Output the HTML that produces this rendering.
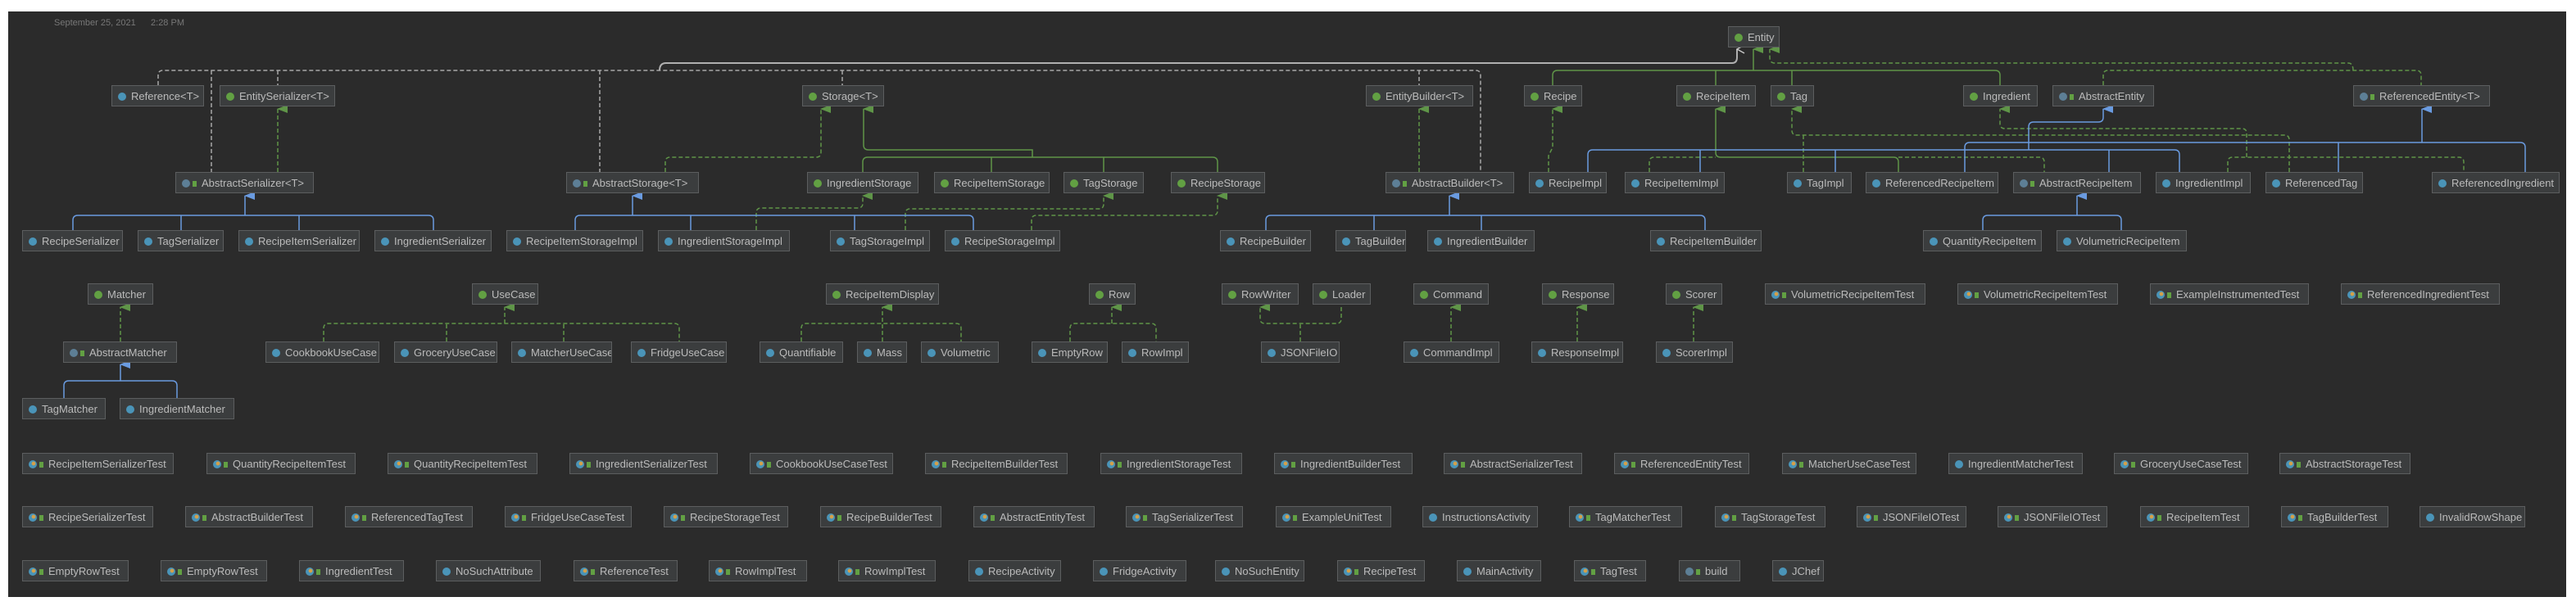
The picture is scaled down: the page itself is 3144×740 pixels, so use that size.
<!DOCTYPE html>
<html><head><meta charset="utf-8">
<style>
html,body{margin:0;padding:0;background:#fff;}
#c{position:relative;width:3144px;height:740px;background:#fff;overflow:hidden;font-family:"Liberation Sans",sans-serif;}
#bg{position:absolute;left:10px;top:14px;width:3122px;height:715px;background:#2b2b2b;}
.b{position:absolute;height:26px;background:#3b3d3e;border:1px solid #5c5e5f;box-sizing:border-box;color:#bbbbbb;font-size:13px;line-height:25px;white-space:nowrap;overflow:hidden;padding-left:7px;}
.b i{display:inline-block;width:10px;height:10px;border-radius:50%;vertical-align:-1px;margin-right:6px;background:#62a043;}
.b i.c{background:#4a94b8;}
.b i.a{background:#5d7f96;}
.b i.t{background:radial-gradient(circle at 60% 40%,#d4a04a 0 25%,#4a94b8 30%);}
.b u{display:inline-block;width:5px;height:7px;background:#62a043;margin-right:6px;margin-left:-3px;text-decoration:none;vertical-align:0;}
svg{position:absolute;left:0;top:0;}
#date{position:absolute;left:66px;top:22px;color:#777;font-size:11px;}
</style></head><body><div id="c">
<div id="bg"></div>
<div id="date">September 25, 2021&nbsp;&nbsp;&nbsp;&nbsp;&nbsp;&nbsp;2:28 PM</div>
<svg width="3144" height="740" viewBox="0 0 3144 740">
<defs>
<marker id="g" markerUnits="userSpaceOnUse" markerWidth="10" markerHeight="14" refX="5" refY="1" orient="auto-start-reverse" viewBox="0 0 10 14"><path d="M5 0 L10 13 L0 13 Z" fill="#5f9548"/></marker>
<marker id="bl" markerUnits="userSpaceOnUse" markerWidth="10" markerHeight="14" refX="5" refY="1" orient="auto-start-reverse" viewBox="0 0 10 14"><path d="M5 0 L10 13 L0 13 Z" fill="#6a9be0"/></marker>
<marker id="w" markerUnits="userSpaceOnUse" markerWidth="12" markerHeight="14" refX="6" refY="1" orient="auto-start-reverse" viewBox="0 0 12 14"><path d="M1 10 L6 1 L11 10" fill="none" stroke="#c8c8c8" stroke-width="1.4"/></marker>
</defs>
<g fill="none" stroke-width="1.5">
<!-- gray -->
<path d="M805 86 Q805 77 813 77 L2114 77 Q2120 77 2120 70 L2120 60" stroke="#b0b0b0" stroke-width="2" marker-end="url(#w)"/>
<g stroke="#a8a8a8" stroke-dasharray="5 3">
<path d="M193 104 L193 92 Q193 86 199 86 L1801 86 Q1807 86 1807 92 L1807 210"/>
<path d="M258 86 L258 210"/><path d="M339 86 L339 104"/><path d="M732 86 L732 210"/><path d="M1028 86 L1028 104"/><path d="M1732 86 L1732 104"/>
</g>
<!-- green solid -->
<g stroke="#5f9548">
<path d="M1895 104 L1895 92 Q1895 86 1901 86 L2435 86 Q2441 86 2441 92 L2441 104"/>
<path d="M2094 104 L2094 86"/><path d="M2187 104 L2187 86"/>
<path d="M2140 86 L2140 60" marker-end="url(#g)"/>
<path d="M1053 210 L1053 198 Q1053 192 1059 192 L1480 192 Q1486 192 1486 198 L1486 210"/>
<path d="M1210 210 L1210 192"/><path d="M1347 210 L1347 192"/>
<path d="M1260 192 L1260 183 L1060 183 Q1054 183 1054 177 L1054 133" marker-end="url(#g)"/>
<path d="M2317 210 L2317 198 Q2317 192 2311 192 L2100 192 Q2094 192 2094 186 L2094 133" marker-end="url(#g)"/>
</g>
<!-- green dashed -->
<g stroke="#5f9548" stroke-dasharray="5 3">
<path d="M2872 86 Q2872 77 2866 77 L2166 77 Q2160 77 2160 70 L2160 60" marker-end="url(#g)"/>
<path d="M2567 104 L2567 92 Q2567 86 2573 86 L2949 86 Q2955 86 2955 92 L2955 104"/>
<path d="M339 210 L339 133" marker-end="url(#g)"/>
<path d="M812 210 L812 198 Q812 192 818 192 L996 192 Q1002 192 1002 186 L1002 133" marker-end="url(#g)"/>
<path d="M923 281 L923 260 Q923 254 929 254 L1047 254 Q1053 254 1053 248 L1053 239" marker-end="url(#g)"/>
<path d="M1105 281 L1105 261 Q1105 255 1111 255 L1341 255 Q1347 255 1347 249 L1347 239" marker-end="url(#g)"/>
<path d="M1259 281 L1259 269 Q1259 263 1265 263 L1480 263 Q1486 263 1486 257 L1486 239" marker-end="url(#g)"/>
<path d="M1732 210 L1732 133" marker-end="url(#g)"/>
<path d="M1890 210 L1890 190 L1895 180 L1895 133" marker-end="url(#g)"/>
<path d="M2013 210 L2013 198 Q2013 192 2019 192 L2094 192"/>
<path d="M2317 192 L2489 192 Q2495 192 2495 198 L2495 210"/>
<path d="M2201 210 L2201 165 M2794 210 L2794 171 Q2794 165 2788 165 L2193 165 Q2187 165 2187 159 L2187 133" marker-end="url(#g)"/>
<path d="M2719 210 L2719 198 Q2719 192 2725 192 L3001 192 Q3007 192 3007 198 L3007 210 M2742 192 L2742 163 Q2742 157 2736 157 L2447 157 Q2441 157 2441 151 L2441 133" marker-end="url(#g)"/>
<!-- lower -->
<path d="M147 417 L147 375" marker-end="url(#g)"/>
<path d="M395 417 L395 401 Q395 395 401 395 L823 395 Q829 395 829 401 L829 417 M545 417 L545 395 M688 417 L688 395 M616 395 L616 375" marker-end="url(#g)"/>
<path d="M978 417 L978 401 Q978 395 984 395 L1167 395 Q1173 395 1173 401 L1173 417 M1077 417 L1077 375" marker-end="url(#g)"/>
<path d="M1306 417 L1306 401 Q1306 395 1312 395 L1405 395 Q1411 395 1411 401 L1411 417 M1357 395 L1357 375" marker-end="url(#g)"/>
<path d="M1587 417 L1587 395 M1637 375 L1637 389 Q1637 395 1631 395 L1544 395 Q1538 395 1538 389 L1538 375" marker-end="url(#g)"/>
<path d="M1771 417 L1771 375" marker-end="url(#g)"/>
<path d="M1925 417 L1925 375" marker-end="url(#g)"/>
<path d="M2067 417 L2067 375" marker-end="url(#g)"/>
</g>
<!-- blue -->
<g stroke="#6a9be0">
<path d="M89 281 L89 269 Q89 263 95 263 L523 263 Q529 263 529 269 L529 281 M221 281 L221 263 M365 281 L365 263 M299 263 L299 239" marker-end="url(#bl)"/>
<path d="M702 281 L702 269 Q702 263 708 263 L1182 263 Q1188 263 1188 269 L1188 281 M843 281 L843 263 M1043 281 L1043 263 M772 263 L772 239" marker-end="url(#bl)"/>
<path d="M1545 281 L1545 269 Q1545 263 1551 263 L2075 263 Q2081 263 2081 269 L2081 281 M1677 281 L1677 263 M1808 281 L1808 263 M1769 263 L1769 239" marker-end="url(#bl)"/>
<path d="M2420 281 L2420 269 Q2420 263 2426 263 L2583 263 Q2589 263 2589 269 L2589 281 M2535 263 L2535 239" marker-end="url(#bl)"/>
<path d="M1938 210 L1938 189 Q1938 183 1944 183 L2654 183 Q2660 183 2660 189 L2660 210 M2075 210 L2075 183 M2240 210 L2240 183 M2574 210 L2574 183 M2476 183 L2476 155 Q2476 149 2482 149 L2561 149 Q2567 149 2567 143 L2567 133" marker-end="url(#bl)"/>
<path d="M2398 210 L2398 180 Q2398 174 2404 174 L3076 174 Q3082 174 3082 180 L3082 210 M2854 210 L2854 174 M2956 174 L2956 133" marker-end="url(#bl)"/>
<path d="M78 486 L78 471 Q78 465 84 465 L210 465 Q216 465 216 471 L216 486 M147 465 L147 445" marker-end="url(#bl)"/>
</g>
</g>
</svg>
<!-- row 0 -->
<div class="b" style="left:2109px;top:32px;width:63px"><i></i>Entity</div>
<!-- row 1 -->
<div class="b" style="left:136px;top:104px;width:113px"><i class="c"></i>Reference&lt;T&gt;</div>
<div class="b" style="left:268px;top:104px;width:141px"><i></i>EntitySerializer&lt;T&gt;</div>
<div class="b" style="left:979px;top:104px;width:100px"><i></i>Storage&lt;T&gt;</div>
<div class="b" style="left:1667px;top:104px;width:131px"><i></i>EntityBuilder&lt;T&gt;</div>
<div class="b" style="left:1860px;top:104px;width:71px"><i></i>Recipe</div>
<div class="b" style="left:2046px;top:104px;width:97px"><i></i>RecipeItem</div>
<div class="b" style="left:2161px;top:104px;width:53px"><i></i>Tag</div>
<div class="b" style="left:2396px;top:104px;width:91px"><i></i>Ingredient</div>
<div class="b" style="left:2505px;top:104px;width:124px"><i class="a"></i><u></u>AbstractEntity</div>
<div class="b" style="left:2872px;top:104px;width:167px"><i class="a"></i><u></u>ReferencedEntity&lt;T&gt;</div>
<!-- row 2 -->
<div class="b" style="left:214px;top:210px;width:169px"><i class="a"></i><u></u>AbstractSerializer&lt;T&gt;</div>
<div class="b" style="left:691px;top:210px;width:162px"><i class="a"></i><u></u>AbstractStorage&lt;T&gt;</div>
<div class="b" style="left:985px;top:210px;width:136px"><i></i>IngredientStorage</div>
<div class="b" style="left:1140px;top:210px;width:141px"><i></i>RecipeItemStorage</div>
<div class="b" style="left:1298px;top:210px;width:98px"><i></i>TagStorage</div>
<div class="b" style="left:1429px;top:210px;width:115px"><i></i>RecipeStorage</div>
<div class="b" style="left:1691px;top:210px;width:157px"><i class="a"></i><u></u>AbstractBuilder&lt;T&gt;</div>
<div class="b" style="left:1866px;top:210px;width:95px"><i class="c"></i>RecipeImpl</div>
<div class="b" style="left:1983px;top:210px;width:122px"><i class="c"></i>RecipeItemImpl</div>
<div class="b" style="left:2181px;top:210px;width:79px"><i class="c"></i>TagImpl</div>
<div class="b" style="left:2277px;top:210px;width:162px"><i class="c"></i>ReferencedRecipeItem</div>
<div class="b" style="left:2457px;top:210px;width:156px"><i class="a"></i><u></u>AbstractRecipeItem</div>
<div class="b" style="left:2631px;top:210px;width:116px"><i class="c"></i>IngredientImpl</div>
<div class="b" style="left:2765px;top:210px;width:119px"><i class="c"></i>ReferencedTag</div>
<div class="b" style="left:2968px;top:210px;width:156px"><i class="c"></i>ReferencedIngredient</div>
<!-- row 3 -->
<div class="b" style="left:27px;top:281px;width:123px"><i class="c"></i>RecipeSerializer</div>
<div class="b" style="left:168px;top:281px;width:105px"><i class="c"></i>TagSerializer</div>
<div class="b" style="left:291px;top:281px;width:148px"><i class="c"></i>RecipeItemSerializer</div>
<div class="b" style="left:457px;top:281px;width:143px"><i class="c"></i>IngredientSerializer</div>
<div class="b" style="left:618px;top:281px;width:167px"><i class="c"></i>RecipeItemStorageImpl</div>
<div class="b" style="left:803px;top:281px;width:161px"><i class="c"></i>IngredientStorageImpl</div>
<div class="b" style="left:1013px;top:281px;width:122px"><i class="c"></i>TagStorageImpl</div>
<div class="b" style="left:1153px;top:281px;width:141px"><i class="c"></i>RecipeStorageImpl</div>
<div class="b" style="left:1489px;top:281px;width:111px"><i class="c"></i>RecipeBuilder</div>
<div class="b" style="left:1630px;top:281px;width:86px"><i class="c"></i>TagBuilder</div>
<div class="b" style="left:1742px;top:281px;width:131px"><i class="c"></i>IngredientBuilder</div>
<div class="b" style="left:2014px;top:281px;width:136px"><i class="c"></i>RecipeItemBuilder</div>
<div class="b" style="left:2347px;top:281px;width:145px"><i class="c"></i>QuantityRecipeItem</div>
<div class="b" style="left:2510px;top:281px;width:159px"><i class="c"></i>VolumetricRecipeItem</div>
<!-- lower group -->
<div class="b" style="left:107px;top:346px;width:80px"><i></i>Matcher</div>
<div class="b" style="left:576px;top:346px;width:81px"><i></i>UseCase</div>
<div class="b" style="left:1008px;top:346px;width:138px"><i></i>RecipeItemDisplay</div>
<div class="b" style="left:1329px;top:346px;width:57px"><i></i>Row</div>
<div class="b" style="left:1491px;top:346px;width:94px"><i></i>RowWriter</div>
<div class="b" style="left:1602px;top:346px;width:71px"><i></i>Loader</div>
<div class="b" style="left:1725px;top:346px;width:92px"><i></i>Command</div>
<div class="b" style="left:1882px;top:346px;width:88px"><i></i>Response</div>
<div class="b" style="left:2033px;top:346px;width:69px"><i></i>Scorer</div>
<div class="b" style="left:2154px;top:346px;width:196px"><i class="t"></i><u></u>VolumetricRecipeItemTest</div>
<div class="b" style="left:2389px;top:346px;width:196px"><i class="t"></i><u></u>VolumetricRecipeItemTest</div>
<div class="b" style="left:2624px;top:346px;width:194px"><i class="t"></i><u></u>ExampleInstrumentedTest</div>
<div class="b" style="left:2857px;top:346px;width:194px"><i class="t"></i><u></u>ReferencedIngredientTest</div>
<div class="b" style="left:77px;top:417px;width:139px"><i class="a"></i><u></u>AbstractMatcher</div>
<div class="b" style="left:324px;top:417px;width:139px"><i class="c"></i>CookbookUseCase</div>
<div class="b" style="left:481px;top:417px;width:126px"><i class="c"></i>GroceryUseCase</div>
<div class="b" style="left:624px;top:417px;width:123px"><i class="c"></i>MatcherUseCase</div>
<div class="b" style="left:770px;top:417px;width:117px"><i class="c"></i>FridgeUseCase</div>
<div class="b" style="left:927px;top:417px;width:102px"><i class="c"></i>Quantifiable</div>
<div class="b" style="left:1046px;top:417px;width:61px"><i class="c"></i>Mass</div>
<div class="b" style="left:1124px;top:417px;width:95px"><i class="c"></i>Volumetric</div>
<div class="b" style="left:1259px;top:417px;width:93px"><i class="c"></i>EmptyRow</div>
<div class="b" style="left:1369px;top:417px;width:82px"><i class="c"></i>RowImpl</div>
<div class="b" style="left:1539px;top:417px;width:96px"><i class="c"></i>JSONFileIO</div>
<div class="b" style="left:1713px;top:417px;width:117px"><i class="c"></i>CommandImpl</div>
<div class="b" style="left:1869px;top:417px;width:112px"><i class="c"></i>ResponseImpl</div>
<div class="b" style="left:2021px;top:417px;width:94px"><i class="c"></i>ScorerImpl</div>
<div class="b" style="left:27px;top:486px;width:102px"><i class="c"></i>TagMatcher</div>
<div class="b" style="left:146px;top:486px;width:140px"><i class="c"></i>IngredientMatcher</div>
<!-- tests row 1 -->
<div class="b" style="left:27px;top:553px;width:185px"><i class="t"></i><u></u>RecipeItemSerializerTest</div>
<div class="b" style="left:252px;top:553px;width:182px"><i class="t"></i><u></u>QuantityRecipeItemTest</div>
<div class="b" style="left:473px;top:553px;width:183px"><i class="t"></i><u></u>QuantityRecipeItemTest</div>
<div class="b" style="left:695px;top:553px;width:181px"><i class="t"></i><u></u>IngredientSerializerTest</div>
<div class="b" style="left:915px;top:553px;width:175px"><i class="t"></i><u></u>CookbookUseCaseTest</div>
<div class="b" style="left:1129px;top:553px;width:174px"><i class="t"></i><u></u>RecipeItemBuilderTest</div>
<div class="b" style="left:1343px;top:553px;width:173px"><i class="t"></i><u></u>IngredientStorageTest</div>
<div class="b" style="left:1555px;top:553px;width:169px"><i class="t"></i><u></u>IngredientBuilderTest</div>
<div class="b" style="left:1762px;top:553px;width:169px"><i class="t"></i><u></u>AbstractSerializerTest</div>
<div class="b" style="left:1970px;top:553px;width:165px"><i class="t"></i><u></u>ReferencedEntityTest</div>
<div class="b" style="left:2175px;top:553px;width:164px"><i class="t"></i><u></u>MatcherUseCaseTest</div>
<div class="b" style="left:2378px;top:553px;width:164px"><i class="c"></i>IngredientMatcherTest</div>
<div class="b" style="left:2580px;top:553px;width:164px"><i class="t"></i><u></u>GroceryUseCaseTest</div>
<div class="b" style="left:2782px;top:553px;width:160px"><i class="t"></i><u></u>AbstractStorageTest</div>
<!-- tests row 2 -->
<div class="b" style="left:27px;top:618px;width:160px"><i class="t"></i><u></u>RecipeSerializerTest</div>
<div class="b" style="left:226px;top:618px;width:156px"><i class="t"></i><u></u>AbstractBuilderTest</div>
<div class="b" style="left:421px;top:618px;width:156px"><i class="t"></i><u></u>ReferencedTagTest</div>
<div class="b" style="left:616px;top:618px;width:155px"><i class="t"></i><u></u>FridgeUseCaseTest</div>
<div class="b" style="left:810px;top:618px;width:152px"><i class="t"></i><u></u>RecipeStorageTest</div>
<div class="b" style="left:1001px;top:618px;width:148px"><i class="t"></i><u></u>RecipeBuilderTest</div>
<div class="b" style="left:1188px;top:618px;width:148px"><i class="t"></i><u></u>AbstractEntityTest</div>
<div class="b" style="left:1374px;top:618px;width:143px"><i class="t"></i><u></u>TagSerializerTest</div>
<div class="b" style="left:1557px;top:618px;width:141px"><i class="t"></i><u></u>ExampleUnitTest</div>
<div class="b" style="left:1736px;top:618px;width:141px"><i class="c"></i>InstructionsActivity</div>
<div class="b" style="left:1915px;top:618px;width:138px"><i class="t"></i><u></u>TagMatcherTest</div>
<div class="b" style="left:2093px;top:618px;width:135px"><i class="t"></i><u></u>TagStorageTest</div>
<div class="b" style="left:2266px;top:618px;width:134px"><i class="t"></i><u></u>JSONFileIOTest</div>
<div class="b" style="left:2438px;top:618px;width:134px"><i class="t"></i><u></u>JSONFileIOTest</div>
<div class="b" style="left:2612px;top:618px;width:133px"><i class="t"></i><u></u>RecipeItemTest</div>
<div class="b" style="left:2784px;top:618px;width:131px"><i class="t"></i><u></u>TagBuilderTest</div>
<div class="b" style="left:2953px;top:618px;width:129px"><i class="c"></i>InvalidRowShape</div>
<!-- tests row 3 -->
<div class="b" style="left:27px;top:684px;width:130px"><i class="t"></i><u></u>EmptyRowTest</div>
<div class="b" style="left:196px;top:684px;width:130px"><i class="t"></i><u></u>EmptyRowTest</div>
<div class="b" style="left:365px;top:684px;width:128px"><i class="t"></i><u></u>IngredientTest</div>
<div class="b" style="left:532px;top:684px;width:128px"><i class="c"></i>NoSuchAttribute</div>
<div class="b" style="left:700px;top:684px;width:127px"><i class="t"></i><u></u>ReferenceTest</div>
<div class="b" style="left:865px;top:684px;width:120px"><i class="t"></i><u></u>RowImplTest</div>
<div class="b" style="left:1023px;top:684px;width:119px"><i class="t"></i><u></u>RowImplTest</div>
<div class="b" style="left:1182px;top:684px;width:113px"><i class="c"></i>RecipeActivity</div>
<div class="b" style="left:1334px;top:684px;width:114px"><i class="c"></i>FridgeActivity</div>
<div class="b" style="left:1483px;top:684px;width:109px"><i class="c"></i>NoSuchEntity</div>
<div class="b" style="left:1632px;top:684px;width:107px"><i class="t"></i><u></u>RecipeTest</div>
<div class="b" style="left:1778px;top:684px;width:103px"><i class="c"></i>MainActivity</div>
<div class="b" style="left:1921px;top:684px;width:88px"><i class="t"></i><u></u>TagTest</div>
<div class="b" style="left:2049px;top:684px;width:75px"><i class="a"></i><u></u>build</div>
<div class="b" style="left:2163px;top:684px;width:63px"><i class="c"></i>JChef</div>
</div></body></html>
